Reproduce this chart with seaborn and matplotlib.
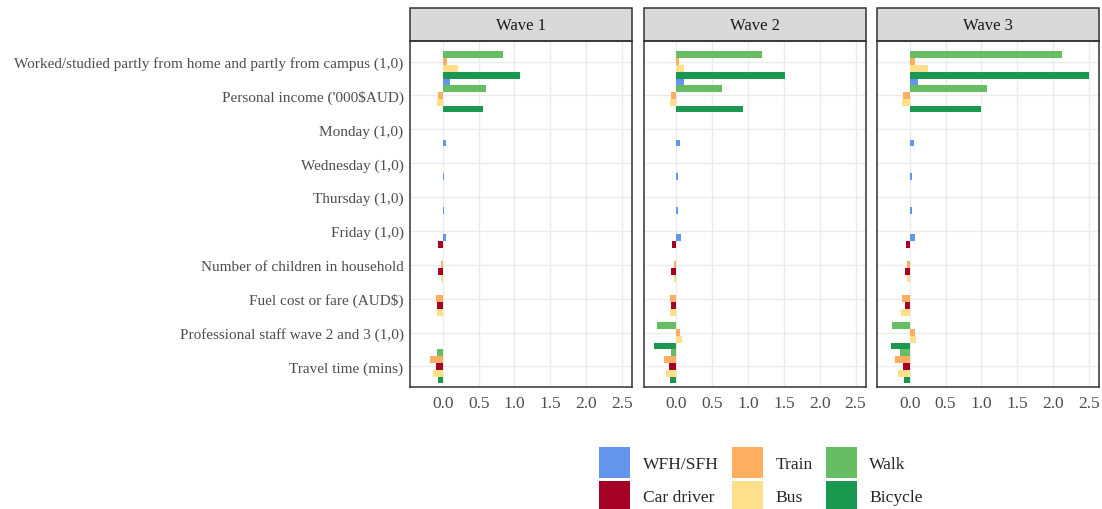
import numpy as np
import pandas as pd
import matplotlib
matplotlib.use("Agg")
import matplotlib.pyplot as plt
from matplotlib.patches import Patch, Rectangle
import seaborn as sns

variables = [
    "Worked/studied partly from home and partly from campus (1,0)",
    "Personal income ('000$AUD)",
    "Monday (1,0)",
    "Wednesday (1,0)",
    "Thursday (1,0)",
    "Friday (1,0)",
    "Number of children in household",
    "Fuel cost or fare (AUD$)",
    "Professional staff wave 2 and 3 (1,0)",
    "Travel time (mins)",
]
modes = ["WFH/SFH", "Car driver", "Train", "Bus", "Walk", "Bicycle"]
mode_colors = ["#6495ED", "#A50026", "#FDAE61", "#FEE08B", "#66BD63", "#1A9850"]
waves = ["Wave 1", "Wave 2", "Wave 3"]
# order in which the modes present for a variable are packed, bottom to top
stack_order = ["Bicycle", "Bus", "Car driver", "Train", "Walk", "WFH/SFH"]
x_ticks = [0.0, 0.5, 1.0, 1.5, 2.0, 2.5]

N = None
# columns follow `modes`; N = not estimated
wave1 = [
    [N, N, 0.065, 0.209, 0.840, 1.076],
    [0.097, N, -0.070, -0.075, 0.598, 0.561],
    [0.042, N, N, N, N, N],
    [0.018, N, N, N, N, N],
    [0.015, N, N, N, N, N],
    [0.050, -0.060, N, N, N, N],
    [N, -0.070, -0.028, -0.028, N, N],
    [N, -0.084, -0.093, -0.080, N, N],
    [N, N, N, N, N, N],
    [N, -0.100, -0.180, -0.130, -0.075, -0.060],
]
wave2 = [
    [N, N, 0.032, 0.111, 1.200, 1.510],
    [0.106, N, -0.079, -0.088, 0.634, 0.930],
    [0.050, N, N, N, N, N],
    [0.023, N, N, N, N, N],
    [0.023, N, N, N, N, N],
    [0.060, -0.060, N, N, N, N],
    [N, -0.075, -0.033, -0.033, N, N],
    [N, -0.075, -0.089, -0.089, N, N],
    [N, N, 0.056, 0.075, -0.270, -0.310],
    [N, -0.098, -0.178, -0.140, -0.070, -0.093],
]
wave3 = [
    [N, N, 0.074, 0.255, 2.120, 2.500],
    [0.116, N, -0.093, -0.107, 1.076, 0.988],
    [0.060, N, N, N, N, N],
    [0.028, N, N, N, N, N],
    [0.028, N, N, N, N, N],
    [0.070, -0.050, N, N, N, N],
    [N, -0.065, -0.033, -0.033, N, N],
    [N, -0.070, -0.110, -0.117, N, N],
    [N, N, 0.080, 0.093, -0.240, -0.260],
    [N, -0.100, -0.205, -0.170, -0.130, -0.084],
]

# long table; each bar gets a band position from its rank among the modes present
rows = []
for wave, table in zip(waves, [wave1, wave2, wave3]):
    for i, (var, vals) in enumerate(zip(variables, table)):
        present = [m for m in stack_order if vals[modes.index(m)] is not None]
        for k, m in enumerate(present):
            rows.append(dict(wave=wave, variable=var, mode=m,
                             value=vals[modes.index(m)],
                             pos=round(i + 0.4 - 0.2 * k, 1)))
df = pd.DataFrame(rows)

lo, hi = df["value"].min(), df["value"].max()
pad = 0.05 * (hi - lo)

sns.set_style("white")
plt.rcParams["font.family"] = ["Liberation Serif", "DejaVu Serif"]
plt.rcParams["font.size"] = 12.5

W, H = 1102, 510
fig = plt.figure(figsize=(W / 100, H / 100), dpi=100)

panel_top, panel_bottom = 42.3, 387.7
panel_w = 221.6
lefts = [410.5, 644.0, 877.4]
strip_px = 33.0
edge = "#333333"

for j, wave in enumerate(waves):
    ax = fig.add_axes([lefts[j] / W, 1 - panel_bottom / H, panel_w / W,
                       (panel_bottom - panel_top) / H])
    sub = df[df["wave"] == wave]
    sns.barplot(data=sub, x="value", y="pos", hue="mode", hue_order=modes,
                palette=mode_colors, orient="h", native_scale=True,
                dodge=False, width=1.0, saturation=1, errorbar=None,
                linewidth=0, legend=False, ax=ax)
    ax.set_xlim(lo - pad, hi + pad)
    ax.set_ylim(len(variables) - 0.4, -0.6)
    ax.set_xticks(x_ticks)
    ax.set_xticklabels([f"{t:.1f}" for t in x_ticks])
    ax.set_yticks(range(len(variables)))
    ax.set_xlabel("")
    ax.set_ylabel("")
    ax.grid(True, color="#EBEBEB", lw=1.0)
    ax.set_axisbelow(True)
    for s in ax.spines.values():
        s.set_color(edge)
        s.set_linewidth(1.1)
    ax.tick_params(axis="x", length=2.75, width=0.8, color=edge, pad=3,
                   labelcolor="#4D4D4D", labelsize=12.5)
    if j == 0:
        ax.set_yticklabels(variables)
        ax.tick_params(axis="y", length=2.75, width=0.8, color=edge, pad=2.2,
                       labelcolor="#4D4D4D", labelsize=11)
    else:
        ax.set_yticklabels([])
        ax.tick_params(axis="y", length=0)
    sh = strip_px / (panel_bottom - panel_top)
    ax.add_patch(Rectangle((0, 1), 1, sh, transform=ax.transAxes,
                           clip_on=False, facecolor="#D9D9D9",
                           edgecolor=edge, lw=1.1))
    ax.text(0.5, 1 + sh / 2, wave, transform=ax.transAxes, ha="center",
            va="center", color="#1A1A1A", fontsize=12)

handles = [Patch(facecolor=c, edgecolor="none", label=m)
           for m, c in zip(modes, mode_colors)]
fig.legend(handles=handles, loc="center", ncol=3, frameon=False,
           bbox_to_anchor=(761 / W, 1 - 480.3 / H), fontsize=12.6,
           handlelength=1.77, handleheight=2.35, handletextpad=0.72,
           labelspacing=0.14, columnspacing=0.75, borderpad=0)

fig.savefig("out.png", dpi=100)
